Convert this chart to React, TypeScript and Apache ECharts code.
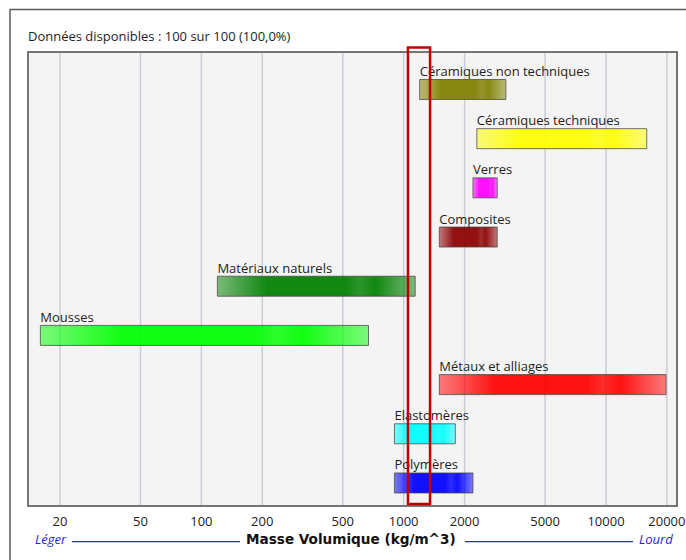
import React, { useEffect, useRef } from "react";
import * as echarts from "echarts";

// Material families and their density ranges (kg/m^3)
const CATEGORIES = [
  "Céramiques non techniques",
  "Céramiques techniques",
  "Verres",
  "Composites",
  "Matériaux naturels",
  "Mousses",
  "Métaux et alliages",
  "Elastomères",
  "Polymères",
];
const DENSITY_MIN = [1200, 2300, 2200, 1500, 120, 16, 1500, 900, 900];
const DENSITY_MAX = [3200, 15900, 2900, 2900, 1140, 670, 19800, 1800, 2200];
const COLORS = [
  "#808000",
  "#ffff00",
  "#ff00ff",
  "#8b0000",
  "#008000",
  "#00ff00",
  "#ff0000",
  "#00ffff",
  "#0000ff",
];

// Tick marks on the logarithmic density axis
const TICK_VALUES = [20, 50, 100, 200, 500, 1000, 2000, 5000, 10000, 20000];
const TICK_LABELS = ["20", "50", "100", "200", "500", "1000", "2000", "5000", "10000", "20000"];

// Selected density window
const SELECTION = [1050, 1350];

const TITLE = "Données disponibles : 100 sur 100 (100,0%)";
const AXIS_NAME = "Masse Volumique (kg/m^3)";
const LEFT_TAG = "Léger";
const RIGHT_TAG = "Lourd";

const FONT = "'Open Sans', 'Noto Sans', sans-serif";
const BOLD_FONT = "'DejaVu Sans', 'Open Sans', sans-serif";
const TAG_BLUE = "#2424e8";

function rgba(hex: string, a: number) {
  const n = parseInt(hex.slice(1), 16);
  return `rgba(${(n >> 16) & 255},${(n >> 8) & 255},${n & 255},${a})`;
}

export default function App() {
  const ref = useRef<HTMLDivElement>(null);

  useEffect(() => {
    if (!ref.current) return;
    const chart = echarts.init(ref.current, null, { renderer: "svg" });

    const barData = CATEGORIES.map((_, i) => [DENSITY_MIN[i], DENSITY_MAX[i], i]);

    const option: any = {
      animation: false,
      backgroundColor: "#ffffff",
      grid: {
        left: 28,
        top: 52,
        width: 649,
        height: 454,
        show: true,
        backgroundColor: "#f4f4f4",
        borderColor: "#4a4a4a",
        borderWidth: 1.5,
      },
      xAxis: {
        type: "log",
        logBase: 10,
        min: 13.9,
        max: 22440,
        show: false,
      },
      yAxis: {
        type: "value",
        inverse: true,
        min: -0.762,
        max: 8.468,
        show: false,
      },
      graphic: [
        {
          type: "polyline",
          shape: { points: [[10, 560], [10, 9.5], [686, 9.5]] },
          style: { stroke: "#5a5a5a", lineWidth: 1.5, fill: "none" },
          silent: true,
        },
        {
          type: "text",
          left: 28,
          top: 29,
          style: { text: TITLE, font: `13px ${FONT}`, fill: "#1e1e1e" },
        },
        {
          type: "text",
          left: 35,
          top: 532,
          style: { text: LEFT_TAG, font: `italic 13px ${FONT}`, fill: TAG_BLUE },
        },
        {
          type: "rect",
          shape: { x: 72, y: 541, width: 168, height: 1.2 },
          style: { fill: TAG_BLUE, stroke: "none" },
        },
        {
          type: "text",
          left: 246,
          top: 532,
          style: { text: AXIS_NAME, font: `bold 13.6px ${BOLD_FONT}`, fill: "#111" },
        },
        {
          type: "rect",
          shape: { x: 465, y: 541, width: 168, height: 1.2 },
          style: { fill: TAG_BLUE, stroke: "none" },
        },
        {
          type: "text",
          left: 639,
          top: 532,
          style: { text: RIGHT_TAG, font: `italic 13px ${FONT}`, fill: TAG_BLUE },
        },
      ],
      series: [
        {
          // vertical grid lines and their tick labels
          type: "custom",
          z: 1,
          clip: false,
          encode: { x: 0, y: 1 },
          data: TICK_VALUES.map((v) => [v, 0]),
          renderItem: (params: any, api: any) => {
            const cs = params.coordSys;
            const x = api.coord([api.value(0), 0])[0];
            return {
              type: "group",
              children: [
                {
                  type: "line",
                  shape: { x1: x, y1: cs.y + 1, x2: x, y2: cs.y + cs.height - 1 },
                  style: { stroke: "#c9ced6", lineWidth: 1.5 },
                },
                {
                  type: "text",
                  x,
                  y: cs.y + cs.height + 15,
                  style: {
                    text: TICK_LABELS[params.dataIndex],
                    align: "center",
                    verticalAlign: "middle",
                    textAlign: "center",
                    textVerticalAlign: "middle",
                    font: `13px ${FONT}`,
                    fill: "#222",
                  },
                },
              ],
            };
          },
        },
        {
          // density range bars with their family names
          type: "custom",
          z: 2,
          clip: false,
          encode: { x: [0, 1], y: 2 },
          data: barData,
          renderItem: (params: any, api: any) => {
            const idx = api.value(2);
            const start = api.coord([api.value(0), idx]);
            const end = api.coord([api.value(1), idx]);
            const h = 20;
            const color = COLORS[params.dataIndex];
            const fill = new echarts.graphic.LinearGradient(0, 0, 1, 0, [
              { offset: 0, color: rgba(color, 0.5) },
              { offset: 0.25, color: rgba(color, 0.93) },
              { offset: 0.65, color: rgba(color, 0.93) },
              { offset: 0.72, color: rgba(color, 0.82) },
              { offset: 0.8, color: rgba(color, 0.93) },
              { offset: 1, color: rgba(color, 0.5) },
            ]);
            const top = start[1] - h / 2;
            return {
              type: "group",
              children: [
                {
                  type: "rect",
                  shape: { x: start[0], y: top, width: end[0] - start[0], height: h },
                  style: { fill, stroke: "rgba(70,70,70,0.75)", lineWidth: 1 },
                },
                {
                  type: "text",
                  x: start[0],
                  y: top - 2,
                  style: {
                    text: CATEGORIES[params.dataIndex],
                    align: "left",
                    verticalAlign: "bottom",
                    textAlign: "left",
                    textVerticalAlign: "bottom",
                    font: `13px ${FONT}`,
                    fill: "#1e1e1e",
                  },
                },
              ],
            };
          },
        },
        {
          // selected density window
          type: "custom",
          z: 3,
          clip: false,
          encode: { x: [0, 1] },
          data: [[SELECTION[0], SELECTION[1]]],
          renderItem: (params: any, api: any) => {
            const cs = params.coordSys;
            const x1 = api.coord([api.value(0), 0])[0];
            const x2 = api.coord([api.value(1), 0])[0];
            return {
              type: "rect",
              shape: { x: x1, y: cs.y - 4.5, width: x2 - x1, height: cs.height + 2.5 },
              style: { fill: "none", stroke: "#c00000", lineWidth: 2.5 },
            };
          },
        },
      ],
    };

    chart.setOption(option);
    return () => chart.dispose();
  }, []);

  return (
    <div
      ref={ref}
      style={{ position: "fixed", left: 0, top: 0, width: 686, height: 560 }}
    />
  );
}
